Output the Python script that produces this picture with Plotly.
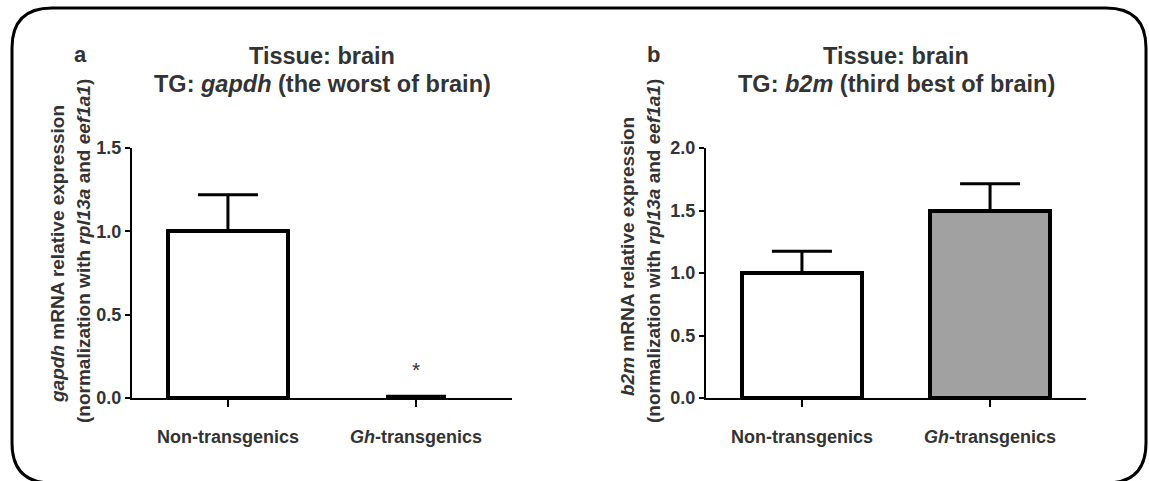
import plotly.graph_objects as go

# ---------------- data ----------------
categories = ["Non-transgenics", "<i>Gh</i>-transgenics"]
gapdh_mean = [1.0, 0.004]
gapdh_err = [0.22, 0.006]
b2m_mean = [1.0, 1.5]
b2m_err = [0.175, 0.215]
gapdh_ticks = [0.0, 0.5, 1.0, 1.5]
b2m_ticks = [0.0, 0.5, 1.0, 1.5, 2.0]

W, H = 1149, 481
FONT = "Liberation Sans, Arial, sans-serif"
TXT = "#333333"

def px(x):
    return x / W

def py(y):
    return 1 - y / H

fig = go.Figure()

x_pos = [0, 1]

fig.add_trace(go.Bar(
    x=x_pos, y=gapdh_mean, width=0.64,
    marker=dict(color=["white", "white"], line=dict(color="black", width=[4, 0])),
    error_y=dict(type="data", array=gapdh_err, arrayminus=[0, 0], symmetric=False,
                 color="black", thickness=3, width=30),
    xaxis="x", yaxis="y", showlegend=False, hoverinfo="skip"))

fig.add_trace(go.Bar(
    x=x_pos, y=b2m_mean, width=0.64,
    marker=dict(color=["white", "#a0a1a0"], line=dict(color="black", width=4)),
    error_y=dict(type="data", array=b2m_err, arrayminus=[0, 0], symmetric=False,
                 color="black", thickness=3, width=30),
    xaxis="x2", yaxis="y2", showlegend=False, hoverinfo="skip"))

xcommon = dict(range=[-0.51, 1.51], tickvals=x_pos, ticktext=categories,
               ticks="outside", ticklen=7, tickwidth=2, tickcolor="black",
               showline=True, linewidth=2, linecolor="black",
               showgrid=False, zeroline=False, fixedrange=True, automargin=False,
               tickfont=dict(family=FONT, size=18, color=TXT, weight="bold"),
               ticklabelstandoff=14)
ycommon = dict(ticks="outside", ticklen=5, tickwidth=2, tickcolor="black",
               showline=True, linewidth=2, linecolor="black",
               showgrid=False, zeroline=False, fixedrange=True, automargin=False,
               tickfont=dict(family=FONT, size=18, color=TXT, weight="bold"))

ydom = [py(398), py(148)]

fig.update_layout(
    width=W, height=H, autosize=False,
    margin=dict(l=0, r=0, t=0, b=0, pad=0, autoexpand=False),
    paper_bgcolor="white", plot_bgcolor="white",
    xaxis=dict(domain=[px(132), px(512)], anchor="y", **xcommon),
    yaxis=dict(domain=ydom, anchor="x", range=[0, 1.5], tickvals=gapdh_ticks,
               ticktext=[f"{v:.1f}" for v in gapdh_ticks], **ycommon),
    xaxis2=dict(domain=[px(706), px(1086)], anchor="y2", **xcommon),
    yaxis2=dict(domain=ydom, anchor="x2", range=[0, 2.0], tickvals=b2m_ticks,
                ticktext=[f"{v:.1f}" for v in b2m_ticks], **ycommon),
    bargap=0,
)

def ann(text, x, y, size, angle=0, bold=True, **kw):
    fig.add_annotation(text=text, x=px(x), y=py(y), xref="paper", yref="paper",
                       showarrow=False, textangle=angle, xanchor="center", yanchor="middle",
                       font=dict(family=FONT, size=size, color=TXT,
                                 weight="bold" if bold else "normal"), **kw)

# panel letters
ann("a", 80, 54, 22)
ann("b", 653, 54, 22)

# titles
ann("Tissue: brain", 322, 56, 23.5)
ann("TG: <i>gapdh</i> (the worst of brain)", 322, 84, 23.5)
ann("Tissue: brain", 896, 56, 23.5)
ann("TG: <i>b2m</i> (third best of brain)", 896, 84, 23.5)

# y-axis titles
ann("<i>gapdh</i> mRNA relative expression", 57, 254, 19, angle=-90)
ann("(normalization with <i>rpl13a</i> and <i>eef1a1</i>)", 83, 251, 19, angle=-90)
ann("<i>b2m</i> mRNA relative expression", 627, 257, 19, angle=-90)
ann("(normalization with <i>rpl13a</i> and <i>eef1a1</i>)", 653, 251, 19, angle=-90)

# significance marker
fig.add_annotation(text="*", x=1, y=0.17, xref="x", yref="y", showarrow=False,
                   font=dict(family=FONT, size=21, color=TXT))

# rounded frame (pixel coordinates from bottom-left); bottom edge just below the page edge
x0, x1 = 12, 1146
y0, y1 = -2, H - 8
r = 40
path = (f"M {x0 + r},{y1} L {x1 - r},{y1} Q {x1},{y1} {x1},{y1 - r} "
        f"L {x1},{y0 + r} Q {x1},{y0} {x1 - r},{y0} "
        f"L {x0 + r},{y0} Q {x0},{y0} {x0},{y0 + r} "
        f"L {x0},{y1 - r} Q {x0},{y1} {x0 + r},{y1} Z")
fig.add_shape(type="path", path=path, xref="paper", yref="paper",
              xsizemode="pixel", ysizemode="pixel", xanchor=0, yanchor=0,
              line=dict(color="black", width=3), fillcolor="rgba(0,0,0,0)", layer="above")

fig.write_html("out.html")
